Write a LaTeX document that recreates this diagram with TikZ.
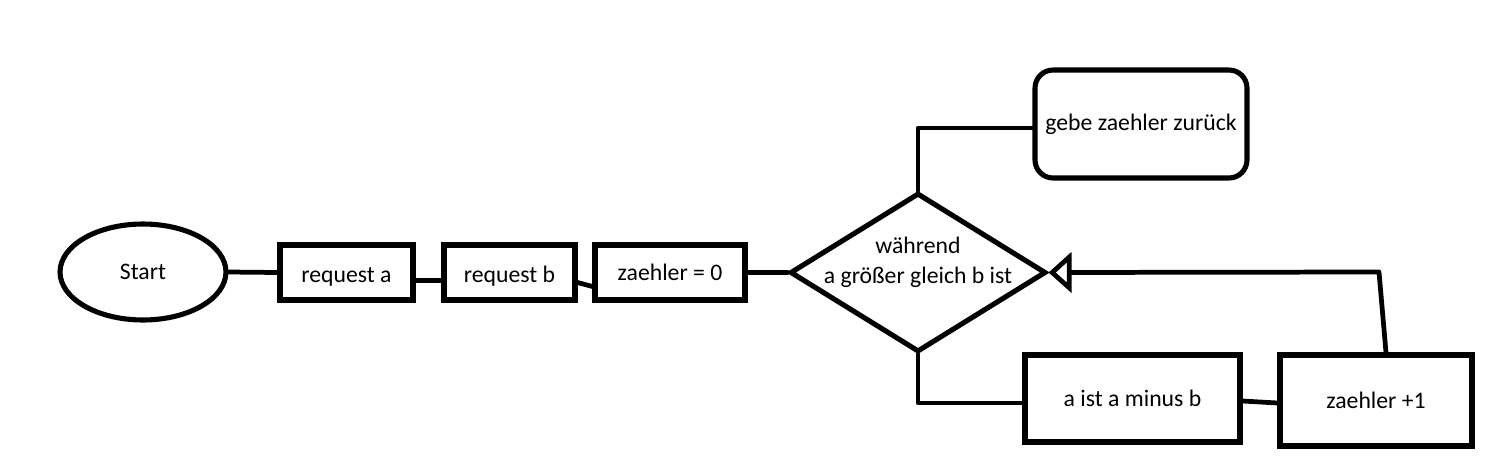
\documentclass[tikz,border=0pt]{standalone}
\usepackage{fontspec}
\setmainfont{Carlito}
\usetikzlibrary{shapes.geometric,arrows.meta}
\begin{document}
\begin{tikzpicture}[x=0.02cm,y=-0.02cm,
  every node/.style={font=\fontsize{13.5}{17}\selectfont},
  boxn/.style={draw,line width=2.9pt,rectangle,inner sep=0pt},
  conn/.style={line width=2.7pt,line cap=round,line join=round}]
\useasboundingbox (0,0) rectangle (1498,471);
\node[draw,line width=2.9pt,ellipse,minimum width=3.32cm,minimum height=1.92cm,inner sep=0pt] (s) at (143,272) {Start};
\node[boxn,minimum width=2.66cm,minimum height=1.1cm,text height=14pt] (ra) at (346.5,272.5) {request a};
\node[boxn,minimum width=2.62cm,minimum height=1.1cm,text height=14pt] (rb) at (509.5,272.5) {request b};
\node[boxn,minimum width=3.0cm,minimum height=1.1cm] (z0) at (670,272.5) {zaehler = 0};
\node[draw,line width=2.9pt,diamond,minimum width=5.12cm,minimum height=3.18cm,inner sep=0pt] (d) at (918,272.5) {};
\node[align=center,inner sep=0pt] (dt) at (918,262) {während\\a größer gleich b ist};
\node[boxn,rounded corners=0.36cm,minimum width=4.24cm,minimum height=2.16cm] (g) at (1141,124) {gebe zaehler zurück};
\node[boxn,minimum width=4.3cm,minimum height=1.74cm] (am) at (1132.5,398.5) {a ist a minus b};
\node[boxn,minimum width=3.84cm,minimum height=1.82cm] (zp) at (1376,400.5) {zaehler +1};
\coordinate (c1) at (918,128);
\coordinate (c2) at (918,403);
\coordinate (c3) at (1379,272);
\coordinate (c4) at (1386,355);
\draw[conn] (s.east) -- (ra.west);
\draw[conn] ([yshift=-0.16cm]ra.east) -- ([yshift=-0.16cm]rb.west);
\draw[conn] ([yshift=-0.2cm]rb.east) -- ([yshift=-0.28cm]z0.west);
\draw[conn] (z0.east) -- (d.west);
\draw[conn] (d.north) -- (c1) -- (g.west |- c1);
\draw[conn] (d.south) -- (c2) -- (am.west |- c2);
\draw[conn] ([yshift=-0.05cm]am.east) -- ([yshift=-0.05cm]zp.west);
\draw[conn,-{Triangle[open,length=0.46cm,width=0.8cm,line width=2.7pt]}] (zp.north -| c4) -- (c3) -- (d.east);
\end{tikzpicture}
\end{document}
